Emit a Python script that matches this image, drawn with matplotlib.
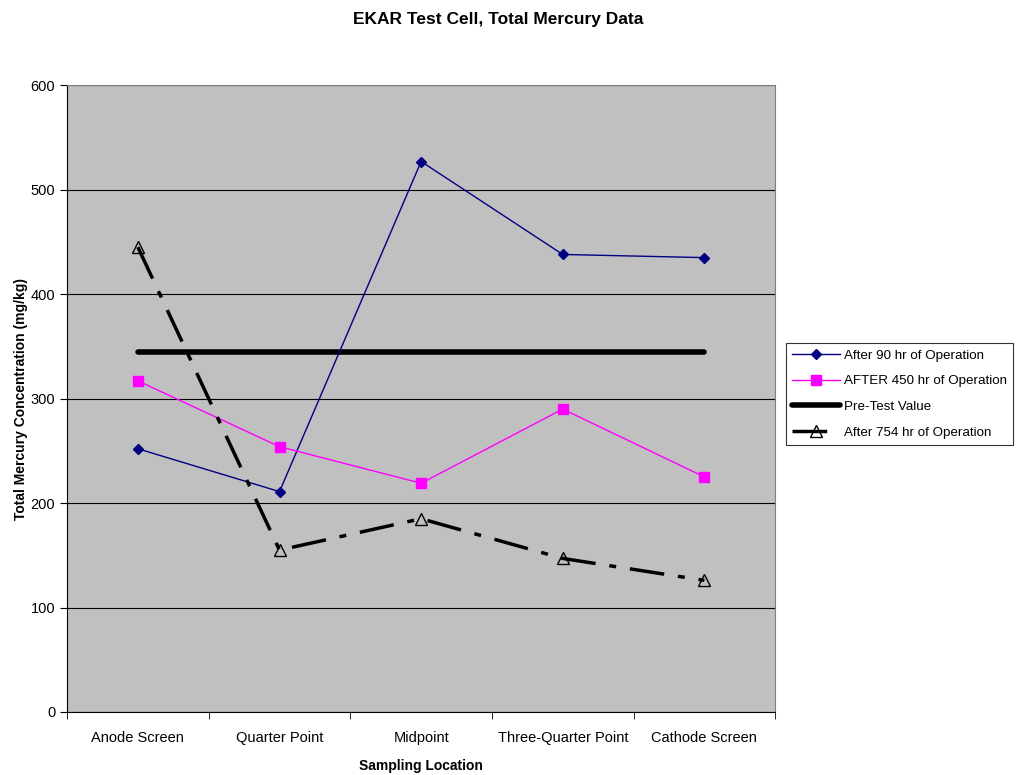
import matplotlib.pyplot as plt
import numpy as np

locations = ['Anode Screen', 'Quarter Point', 'Midpoint', 'Three-Quarter Point', 'Cathode Screen']
after_90 = [252, 211, 527, 438, 435]
after_450 = [317, 254, 219, 290, 225]
pre_test = [345, 345, 345, 345, 345]
after_754 = [445, 155, 185, 147, 126]

plt.rcParams['font.family'] = ['Liberation Sans', 'DejaVu Sans']

fig = plt.figure(figsize=(10.16, 7.75), dpi=100)
ax = fig.add_axes([0.066, 0.0813, 0.697, 0.8087])
ax.set_facecolor('#c0c0c0')

x = np.arange(len(locations))
ax.plot(x, after_90, color='#000080', lw=1, marker='D', ms=5, label='After 90 hr of Operation', zorder=4)
ax.plot(x, after_450, color='#ff00ff', lw=1, marker='s', ms=7, label='AFTER 450 hr of Operation', zorder=4)
ax.plot(x, pre_test, color='black', lw=4, solid_capstyle='round', label='Pre-Test Value', zorder=3)
ax.plot(x, after_754, color='black', lw=2.5, marker='^', ms=9, mfc='none', mec='black', mew=1,
        dashes=(10, 4, 2, 4), label='After 754 hr of Operation', zorder=5)

ax.set_xlim(-0.5, 4.5)
ax.set_ylim(0, 600)
ax.set_yticks(range(0, 601, 100))
ax.set_xticks(x)
ax.set_xticklabels(locations, fontsize=10.5)
ax.set_xticks(np.arange(-0.5, 4.6, 1), minor=True)
ax.tick_params(axis='x', which='major', length=0, pad=14)
ax.tick_params(axis='x', which='minor', length=5, direction='out')
ax.tick_params(axis='y', length=5, direction='out', labelsize=10.5)
ax.yaxis.grid(True, color='black', lw=0.8)
ax.set_axisbelow(True)
for s in ['top', 'right']:
    ax.spines[s].set_color('#808080')
for s in ['left', 'bottom']:
    ax.spines[s].set_color('black')

ax.set_ylabel('Total Mercury Concentration (mg/kg)', fontsize=10, fontweight='bold', labelpad=2)
ax.set_xlabel('Sampling Location', fontsize=10, fontweight='bold', labelpad=10)
fig.suptitle('EKAR Test Cell, Total Mercury Data', fontsize=12.5, fontweight='bold', x=0.49, y=0.985)

leg = fig.legend(loc='upper left', bbox_to_anchor=(0.774, 0.557), fontsize=9.6, frameon=True,
                 fancybox=False, edgecolor='black', borderpad=0.45, labelspacing=1.0,
                 handlelength=3.6, handletextpad=0.3, borderaxespad=0)
leg.get_frame().set_linewidth(0.8)

fig.savefig('out.png', dpi=100)
